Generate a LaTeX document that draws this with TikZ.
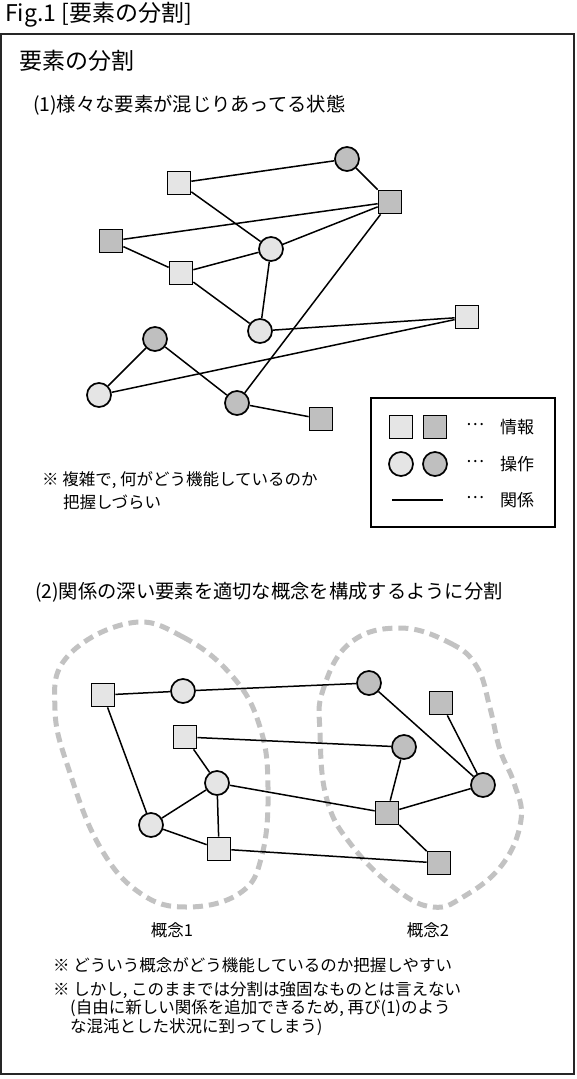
\documentclass[tikz,border=0pt]{standalone}
\usepackage{fontspec}
\setmainfont{Noto Sans CJK JP}
\definecolor{nodeLight}{gray}{0.9}
\definecolor{nodeDark}{gray}{0.75}
\definecolor{blobGray}{gray}{0.76}
\definecolor{frameGray}{gray}{0.15}
\begin{document}
\begin{tikzpicture}[x=1pt,y=-1pt,
  sq/.style={draw, line width=1.7pt, minimum size=23pt, inner sep=0pt},
  ci/.style={draw, circle, line width=1.7pt, minimum size=24pt, inner sep=0pt},
  lt/.style={fill=nodeLight}, dk/.style={fill=nodeDark},
  rel/.style={line width=1.5pt},
  blob/.style={draw=blobGray, line width=5pt, dash pattern=on 10pt off 6pt},
  txt/.style={anchor=west, inner sep=0pt},
  big/.style={font=\fontsize{23}{27}\selectfont},
  mid/.style={font=\fontsize{19.3}{23}\selectfont},
  sml/.style={font=\fontsize{16.5}{20}\selectfont},
  leg/.style={font=\fontsize{17}{20}\selectfont, inner sep=0pt}]
\useasboundingbox (0,0) rectangle (576,1079);

% titles
\node[txt, big] (fig) at (5,15) {Fig.1 [要素の分割]};
\draw[line width=2.2pt, draw=frameGray] (1,34) rectangle (574,1074);
\node[txt, big] (head) at (19,61) {要素の分割};
\node[txt, mid] (sec1) at (33,105) {(1)様々な要素が混じりあってる状態};

% top graph nodes
\node[ci, dk] (A) at (347,159) {};
\node[sq, lt] (B) at (179,183) {};
\node[sq, dk] (C) at (390,202) {};
\node[sq, dk] (D) at (111,241) {};
\node[ci, lt] (E) at (271,249) {};
\node[sq, lt] (F) at (181,273) {};
\node[ci, lt] (G) at (260,331) {};
\node[sq, lt] (H) at (467,317) {};
\node[ci, dk] (I) at (155,339) {};
\node[ci, lt] (J) at (99,395) {};
\node[ci, dk] (K) at (237,403) {};
\node[sq, dk] (L) at (321,419) {};

\draw[rel] (B) -- (A);
\draw[rel] (A) -- (C);
\draw[rel] (D) -- (C);
\draw[rel] (E) -- (C);
\draw[rel] (B) -- (E);
\draw[rel] (D) -- (F);
\draw[rel] (F) -- (E);
\draw[rel] (E) -- (G);
\draw[rel] (F) -- (G);
\draw[rel] (G) -- (H);
\draw[rel] (J) -- (H);
\draw[rel] (I) -- (J);
\draw[rel] (I) -- (K);
\draw[rel] (K) -- (C);
\draw[rel] (K) -- (L);

% legend
\draw[line width=1.7pt] (371,398) rectangle (555,527);
\node[sq, lt] (lgA) at (401,427) {};
\node[sq, dk] (lgB) at (435,427) {};
\node[ci, lt] (lgC) at (401,464) {};
\node[ci, dk] (lgD) at (435,464) {};
\coordinate (lgL1) at (392,500);
\coordinate (lgL2) at (443,500);
\draw[rel] (lgL1) -- (lgL2);
\node[leg] (d1) at (475,425) {…};
\node[leg] (d2) at (475,462) {…};
\node[leg] (d3) at (475,498) {…};
\node[leg] (t1) at (517,427) {情報};
\node[leg] (t2) at (517,464) {操作};
\node[leg] (t3) at (517,500) {関係};

% note 1
\node[txt, sml] (n1a) at (42,480) {※ 複雑で, 何がどう機能しているのか};
\node[txt, sml] (n1b) at (63,502) {把握しづらい};

% section 2
\node[txt, mid] (sec2) at (35,592) {(2)関係の深い要素を適切な概念を構成するように分割};

% blobs
\draw[blob] plot[smooth cycle, tension=0.7] coordinates {
  (130,623) (183,637) (233,677) (260,727) (268,787) (262,855)
  (240,893) (187,907) (140,893) (100,847) (70,773) (55,710) (67,657)};
\draw[blob] plot[smooth cycle, tension=0.7] coordinates {
  (400,628) (450,643) (477,667) (490,708) (500,750) (514,783) (521,820)
  (502,865) (463,897) (433,907) (397,890) (353,847) (327,800) (320,733)
  (323,690) (350,643)};

% bottom graph nodes
\node[sq, lt] (P1) at (103,695) {};
\node[ci, lt] (P2) at (183,691) {};
\node[sq, lt] (P3) at (185,737) {};
\node[ci, lt] (P4) at (217,783) {};
\node[ci, lt] (P5) at (151,825) {};
\node[sq, lt] (P6) at (219,849) {};
\node[ci, dk] (Q1) at (369,683) {};
\node[sq, dk] (Q2) at (441,703) {};
\node[ci, dk] (Q3) at (404,747) {};
\node[ci, dk] (Q6) at (483,785) {};
\node[sq, dk] (Q4) at (387,813) {};
\node[sq, dk] (Q5) at (439,863) {};

\draw[rel] (P1) -- (P2);
\draw[rel] (P1) -- (P5);
\draw[rel] (P3) -- (P4);
\draw[rel] (P4) -- (P5);
\draw[rel] (P4) -- (P6);
\draw[rel] (P5) -- (P6);
\draw[rel] (P2) -- (Q1);
\draw[rel] (P3) -- (Q3);
\draw[rel] (P4) -- (Q4);
\draw[rel] (P6) -- (Q5);
\draw[rel] (Q1) -- (Q6);
\draw[rel] (Q2) -- (Q6);
\draw[rel] (Q3) -- (Q4);
\draw[rel] (Q4) -- (Q6);
\draw[rel] (Q4) -- (Q5);

\node[leg, font=\fontsize{16.5}{19}\selectfont] (k1) at (172,930) {概念1};
\node[leg, font=\fontsize{16.5}{19}\selectfont] (k2) at (428,930) {概念2};

% bottom notes
\node[txt, sml] (n2a) at (53,965) {※ どういう概念がどう機能しているのか把握しやすい};
\node[txt, sml] (n2b) at (53,990) {※ しかし, このままでは分割は強固なものとは言えない};
\node[txt, sml] (n2c) at (70,1008) {(自由に新しい関係を追加できるため, 再び(1)のよう};
\node[txt, sml] (n2d) at (70,1027) {な混沌とした状況に到ってしまう)};
\end{tikzpicture}
\end{document}
